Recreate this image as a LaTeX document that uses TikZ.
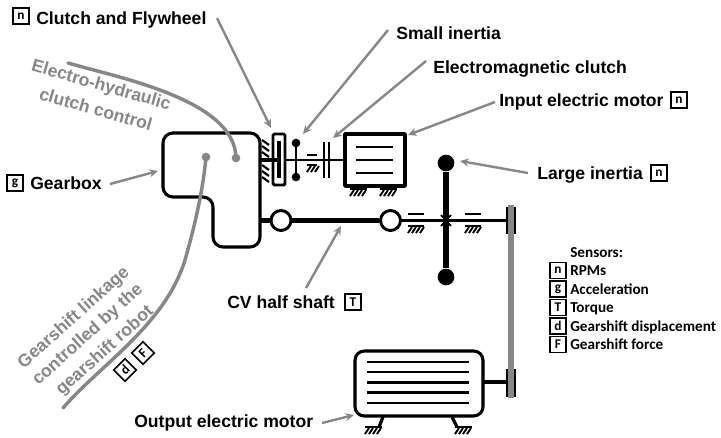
\documentclass[tikz,border=0pt]{standalone}
\usepackage{fontspec}
\setmainfont{Liberation Sans}
\newfontfamily\sensorfont{Carlito}
\usetikzlibrary{arrows.meta}
\definecolor{lead}{HTML}{878787}
\tikzset{
  lbl/.style={anchor=base west,inner sep=0pt,font=\fontsize{13.2pt}{15pt}\selectfont\bfseries},
  gl/.style={inner sep=0pt,text=lead,font=\fontsize{13.2pt}{15pt}\selectfont\bfseries},
  sens/.style={draw,line width=1.2pt,minimum size=12pt,inner sep=0pt,font=\fontsize{10pt}{11pt}\selectfont\sensorfont\bfseries},
  sl/.style={anchor=base west,inner sep=0pt,font=\fontsize{11.4pt}{12pt}\selectfont\sensorfont\bfseries},
  lead/.style={draw=lead,line width=1.8pt,-{Stealth[length=6.5pt,width=6pt]}},
  curve/.style={draw=lead,line width=2.6pt,line cap=round},
  heavy/.style={line width=3.4pt},
  mid/.style={line width=2.2pt},
  outline/.style={line width=2.3pt,line join=round},
  joint/.style={circle,draw,fill=white,line width=2.2pt,minimum size=15pt,inner sep=0pt},
  mass/.style={circle,fill=black,inner sep=0pt},
  gnd/.style={line width=0.8pt}
}
\newcommand{\hatchbar}[3]{%
  \draw[gnd] (#1,#3) -- (#2,#3);
  \foreach \hx in {0,4,...,16}{
    \pgfmathsetmacro{\hh}{#1+\hx+4}
    \pgfmathparse{\hh<=#2+1?1:0}
    \ifnum\pgfmathresult=1
      \draw[line width=1.4pt] (\hh,#3+1) -- (\hh-4,#3+7);
    \fi}}
\begin{document}
\begin{tikzpicture}[x=0.75pt,y=-0.75pt]
\useasboundingbox (0,0) rectangle (721,437);
% gearbox
\draw[outline,rounded corners=7.5pt] (163,133) -- (260,133) -- (260,247) -- (213,247) -- (213,197) -- (163,197) -- cycle;
% clutch and flywheel
\draw[heavy] (260,160) -- (279,160);
\draw[line width=2.2pt,rounded corners=1pt] (273,134) rectangle (285,185);
\draw[line width=2.6pt] (279,141) -- (279,178);
\foreach \hy in {142,148,154}{\draw[line width=1.6pt] (262,\hy-2) -- (269,\hy+3);}
\foreach \hy in {167,173,179}{\draw[line width=1.6pt] (262,\hy-2) -- (269,\hy+3);}
% input shaft
\draw[mid] (285,160) -- (345,160);
\draw[mid] (296,143) -- (296,177);
\node[mass,minimum size=6.5pt] (si1) at (296,143) {};
\node[mass,minimum size=6.5pt] (si2) at (296,177) {};
\draw[mid] (307,155) -- (317,155);
\draw[gnd] (307,165) -- (317,165);
\foreach \hx in {311,315,319}{\draw[line width=1.4pt] (\hx,166) -- (\hx-4,172);}
\draw[line width=1.9pt] (324,142) -- (324,178);
\draw[line width=1.9pt] (329,142) -- (329,178);
% input motor
\draw[line width=2.6pt,line join=round] (345,134) rectangle (405,186);
\foreach \my in {147,160,173}{\draw[mid] (356,\my) -- (393,\my);}
\hatchbar{350}{367}{189}
\hatchbar{380}{397}{189}
% CV half shaft
\node[joint] (j1) at (281,220.5) {};
\node[joint] (j2) at (390.5,220.5) {};
\draw[line width=3.6pt] (260,220.5) -- (j1);
\draw[line width=3.6pt] (j1) -- (j2);
\draw[line width=2.8pt] (j2) -- (507,220.5);
% bearings
\draw[mid] (408,214) -- (424,214);
\hatchbar{408}{424}{226}
\draw[mid] (465,214) -- (481,214);
\hatchbar{465}{481}{226}
% large inertia
\node[mass,minimum size=12.5pt] (li1) at (446,163) {};
\node[mass,minimum size=12.5pt] (li2) at (446,277) {};
\draw[line width=3.8pt] (li1) -- (li2);
\draw[line width=1.3pt] (441,215) -- (451,226) (451,215) -- (441,226);
% output motor
\draw[outline,rounded corners=7pt] (355,351) rectangle (483,416);
\foreach \my in {362,372,382.5,392.5,403}{\draw[mid] (367,\my) -- (469,\my);}
\draw[heavy] (483,382) -- (506,382);
\draw[line width=2.4pt] (383,417) -- (379,427);
\draw[line width=2.4pt] (452,417) -- (457,427);
\hatchbar{365}{382}{427}
\hatchbar{455}{472}{427}
% belt with pulleys
\fill (505.5,207) rectangle (516,234);
\fill (505.5,369) rectangle (516,397);
\draw[draw=lead,line width=3.8pt] (511,205) -- (511,398);
% control curves
\coordinate (cstart) at (68,63);
\coordinate (gstart) at (63,408);
\node[circle,fill=lead,minimum size=6.5pt,inner sep=0pt] (cdot) at (236,158) {};
\node[circle,fill=lead,minimum size=6.5pt,inner sep=0pt] (gdot) at (206,157) {};
\draw[curve] (cstart) .. controls (120,78) and (235,100) .. (cdot.center);
\draw[curve] (gstart) .. controls (100,365) and (165,325) .. (185,260) .. controls (195,225) and (203,190) .. (gdot.center);
% labels
\node[sens] (s1) at (21,16) {n};
\node[lbl] (t1) at (36,24) {Clutch and Flywheel};
\node[lbl] (t2) at (396,39) {Small inertia};
\node[lbl] (t3) at (433,73) {Electromagnetic clutch};
\node[lbl] (t4) at (499,106) {Input electric motor};
\node[sens] (s4) at (679,100) {n};
\node[lbl] (t5) at (537,179) {Large inertia};
\node[sens] (s5) at (659,173) {n};
\node[sens] (s6) at (15,183) {g};
\node[lbl] (t6) at (30,189) {Gearbox};
\node[lbl] (t7) at (227,308) {CV half shaft};
\node[sens] (s7) at (353,302) {T};
\node[lbl] (t8) at (134,427) {Output electric motor};
\node[gl,rotate=-16] (e1) at (101,86) {Electro-hydraulic};
\node[gl,rotate=-16] (e2) at (96,109) {clutch control};
\node[gl,rotate=42] (g1) at (74,318) {Gearshift linkage};
\node[gl,rotate=42] (g2) at (88,335) {controlled by the};
\node[gl,rotate=42] (g3) at (105,351) {gearshift robot};
\node[sens,rotate=45] (sd) at (125,370) {d};
\node[sens,rotate=45] (sf) at (143,353) {F};
% leader arrows
\coordinate (a1s) at (217,18); \coordinate (a1e) at (271,128);
\coordinate (a2s) at (388,30); \coordinate (a2e) at (303,134);
\coordinate (a3s) at (426,61); \coordinate (a3e) at (333,138);
\coordinate (a4s) at (495,102); \coordinate (a4e) at (408,135);
\coordinate (a5s) at (528,173); \coordinate (a5e) at (460,161);
\coordinate (a6s) at (110,184); \coordinate (a6e) at (158,171);
\coordinate (a7s) at (306,288); \coordinate (a7e) at (341,226);
\coordinate (a8s) at (322,423); \coordinate (a8e) at (354,415);
\foreach \an in {1,...,8}{\draw[lead] (a\an s) -- (a\an e);}
% sensors legend
\node[sl] (h) at (570,257) {Sensors:};
\node[sens] (k1) at (558,270.5) {n};
\node[sens] (k2) at (558,289) {g};
\node[sens] (k3) at (558,307.5) {T};
\node[sens] (k4) at (558,326) {d};
\node[sens] (k5) at (558,344.5) {F};
\node[sl] (l1) at (570,275.5) {RPMs};
\node[sl] (l2) at (570,294) {Acceleration};
\node[sl] (l3) at (570,312.5) {Torque};
\node[sl] (l4) at (570,331) {Gearshift displacement};
\node[sl] (l5) at (570,349.5) {Gearshift force};
\end{tikzpicture}
\end{document}
